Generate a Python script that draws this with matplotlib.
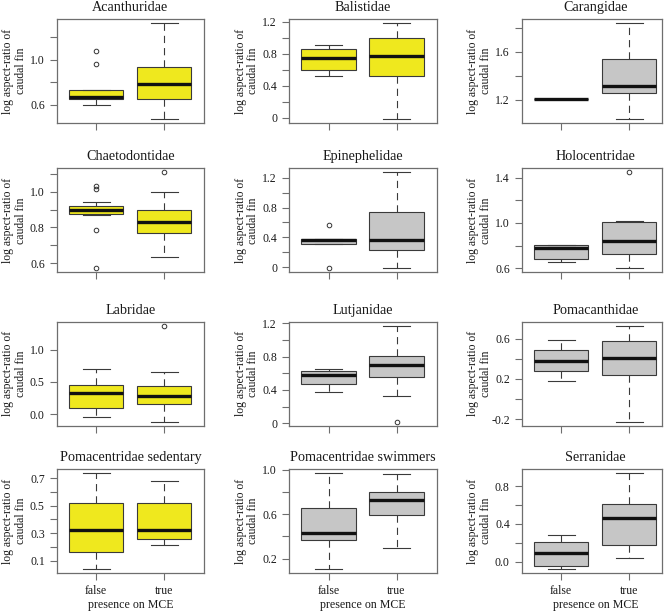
import matplotlib
matplotlib.use('Agg')
import matplotlib.pyplot as plt
import numpy as np

plt.rcParams['font.family'] = ['Liberation Serif', 'DejaVu Serif']

# ---------------- data ----------------
families = ['Acanthuridae', 'Balistidae', 'Carangidae',
            'Chaetodontidae', 'Epinephelidae', 'Holocentridae',
            'Labridae', 'Lutjanidae', 'Pomacanthidae',
            'Pomacentridae sedentary', 'Pomacentridae swimmers', 'Serranidae']
fill_kind = ['yellow', 'yellow', 'gray',
             'yellow', 'gray', 'gray',
             'yellow', 'gray', 'gray',
             'yellow', 'gray', 'gray']
groups = ['false', 'true']

# (whislo, q1, median, q3, whishi)
false_stats = [
    (0.600, 0.653, 0.671, 0.733, 0.733),
    (0.525, 0.600, 0.750, 0.862, 0.908),
    (1.211, 1.211, 1.211, 1.211, 1.211),
    (0.870, 0.875, 0.896, 0.918, 0.940),
    (0.310, 0.310, 0.360, 0.380, 0.380),
    (0.658, 0.681, 0.779, 0.802, 0.808),
    (-0.046, 0.098, 0.325, 0.448, 0.696),
    (0.381, 0.477, 0.582, 0.622, 0.658),
    (0.183, 0.283, 0.378, 0.484, 0.590),
    (0.037, 0.163, 0.322, 0.517, 0.741),
    (0.107, 0.371, 0.431, 0.658, 0.970),
    (-0.078, -0.042, 0.088, 0.204, 0.282),
]
true_stats = [
    (0.470, 0.647, 0.781, 0.935, 1.326),
    (-0.017, 0.525, 0.767, 1.000, 1.188),
    (1.039, 1.253, 1.319, 1.539, 1.842),
    (0.634, 0.769, 0.833, 0.896, 0.998),
    (-0.018, 0.225, 0.369, 0.746, 1.276),
    (0.598, 0.728, 0.841, 1.009, 1.018),
    (-0.119, 0.165, 0.278, 0.438, 0.660),
    (0.325, 0.550, 0.702, 0.814, 1.175),
    (-0.227, 0.240, 0.412, 0.577, 0.732),
    (0.215, 0.256, 0.324, 0.517, 0.685),
    (0.296, 0.596, 0.730, 0.796, 0.961),
    (0.035, 0.180, 0.465, 0.610, 0.941),
]
false_fliers = [
    [1.077, 0.964], [], [], [1.030, 1.015, 0.788, 0.572], [0.562, -0.018],
    [], [], [], [], [], [], [],
]
true_fliers = [
    [], [], [], [1.108], [], [1.449], [1.376], [0.016], [], [], [], [],
]

ytick_values = [
    [0.6, 0.8, 1.0, 1.2],
    [0, 0.2, 0.4, 0.6, 0.8, 1.0, 1.2],
    [1.2, 1.4, 1.6, 1.8],
    [0.6, 0.7, 0.8, 0.9, 1.0, 1.1],
    [0, 0.2, 0.4, 0.6, 0.8, 1.0, 1.2],
    [0.6, 0.8, 1.0, 1.2, 1.4],
    [0.0, 0.5, 1.0],
    [0, 0.2, 0.4, 0.6, 0.8, 1.0, 1.2],
    [-0.2, 0.0, 0.2, 0.4, 0.6],
    [0.1, 0.2, 0.3, 0.4, 0.5, 0.6, 0.7],
    [0.2, 0.4, 0.6, 0.8, 1.0],
    [0.0, 0.2, 0.4, 0.6, 0.8],
]
ytick_labels = [
    ['0.6', '', '1.0', ''],
    ['0', '', '0.4', '', '0.8', '', '1.2'],
    ['1.2', '', '1.6', ''],
    ['0.6', '', '0.8', '', '1.0', ''],
    ['0', '', '0.4', '', '0.8', '', '1.2'],
    ['0.6', '', '1.0', '', '1.4'],
    ['0.0', '0.5', '1.0'],
    ['0', '', '0.4', '', '0.8', '', '1.2'],
    ['-0.2', '', '0.2', '', '0.6'],
    ['0.1', '', '0.3', '', '0.5', '', '0.7'],
    ['0.2', '', '0.6', '', '1.0'],
    ['0.0', '', '0.4', '', '0.8'],
]
ylabel_text = 'log aspect-ratio of\ncaudal fin'
xlabel_text = 'presence on MCE'

# ---------------- layout / style ----------------
W, Hf = 669, 611
fig = plt.figure(figsize=(W / 100, Hf / 100), dpi=100)

col_left = [56.7, 289.0, 521.7]
col_width = [147.3, 148.0, 140.0]
full_width = 147.5
row_top = [19.0, 168.3, 321.7, 469.0]
row_h = 104.0
unit_px = 68.0

colors = {'yellow': '#EFE81E', 'gray': '#C6C6C6'}
text_c = '#1a1a1a'
spine_c = '#6e6e6e'
edge_c = '#3a3a3a'

for i, fam in enumerate(families):
    r, c = divmod(i, 3)
    ax = fig.add_axes([col_left[c] / W, 1 - (row_top[r] + row_h) / Hf,
                       col_width[c] / W, row_h / Hf])
    stats = []
    for s, fl, lab in zip((false_stats[i], true_stats[i]),
                          (false_fliers[i], true_fliers[i]), groups):
        wl, q1, med, q3, wh = s
        stats.append(dict(whislo=wl, q1=q1, med=med, q3=q3, whishi=wh,
                          fliers=np.array(fl), label=lab))
    ax.bxp(stats, positions=[1, 2], widths=0.8, patch_artist=True,
           boxprops=dict(facecolor=colors[fill_kind[i]], edgecolor=edge_c,
                         linewidth=0.8),
           whiskerprops=dict(color=edge_c, linewidth=0.8,
                             linestyle=(0, (6.5, 4.5))),
           capprops=dict(color=edge_c, linewidth=0.8),
           medianprops=dict(color='#111111', linewidth=2.4,
                            solid_capstyle='butt'),
           flierprops=dict(marker='o', markerfacecolor='none',
                           markeredgecolor='#333333', markersize=3.3,
                           markeredgewidth=0.7, linestyle='none'))

    allv = list(false_stats[i]) + list(true_stats[i]) + false_fliers[i] + true_fliers[i]
    lo, hi = min(allv), max(allv)
    pad = 0.04 * (hi - lo)
    ax.set_ylim(lo - pad, hi + pad)
    x_left = 1 - 39.5 / unit_px
    ax.set_xlim(x_left, x_left + col_width[c] / unit_px)

    ax.set_yticks(ytick_values[i], ytick_labels[i])
    ax.set_xticks([1, 2], groups if r == 3 else ['', ''])
    ax.tick_params(direction='out', length=5, width=0.8, color=spine_c,
                   pad=3.6, labelsize=8.5, labelcolor=text_c)
    for sp in ax.spines.values():
        sp.set_color(spine_c)
        sp.set_linewidth(0.9)

    cx = (full_width / 2) / col_width[c]
    ax.annotate(fam, xy=(cx, 1), xycoords='axes fraction',
                xytext=(0, 11.5), textcoords='offset pixels',
                ha='center', va='center', fontsize=10.2, color=text_c)
    ax.annotate(ylabel_text, xy=(0, 0.5), xycoords='axes fraction',
                xytext=(-42.2, 0), textcoords='offset pixels',
                ha='center', va='center', rotation=90, fontsize=8.4,
                linespacing=1.05, color=text_c, multialignment='center')
    if r == 3:
        ax.annotate(xlabel_text, xy=(cx, 0), xycoords='axes fraction',
                    xytext=(0, -31.7), textcoords='offset pixels',
                    ha='center', va='center', fontsize=8.6, color=text_c)

fig.savefig('out.png', dpi=100)
